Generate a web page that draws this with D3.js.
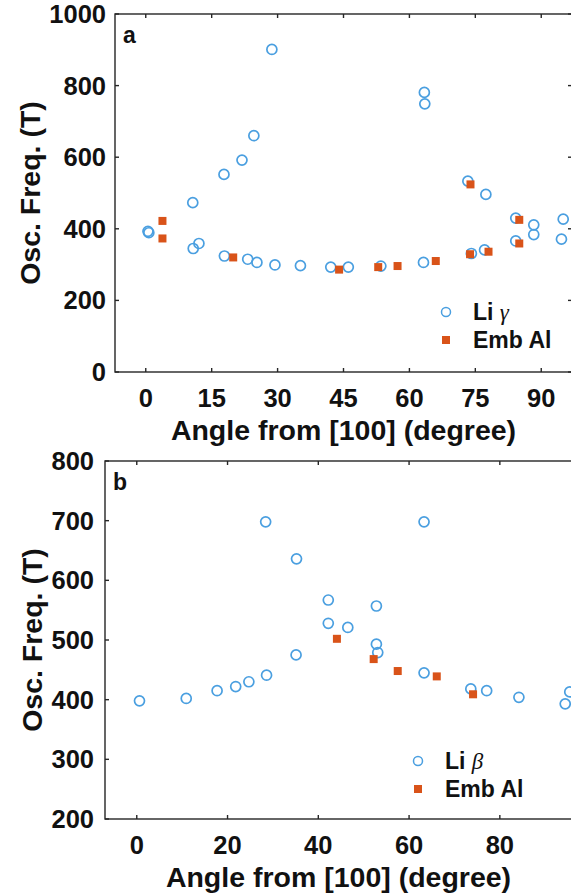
<!DOCTYPE html>
<html lang="en">
<head>
<meta charset="utf-8">
<title>Osc. Freq. vs angle</title>
<script src="https://cdn.jsdelivr.net/npm/d3@7"></script>
<style>
  body { margin: 0; background: #fff; }
  svg text { font-family: "Liberation Sans", Arial, sans-serif; font-weight: bold; fill: #111; }
</style>
</head>
<body>
<svg width="571" height="894"></svg>
<script>
// panel a data (Li gamma / Emb Al)
const aLiX = [0.5, 0.7, 10.7, 10.8, 12.1, 17.8, 17.9, 21.9, 23.2, 24.6, 25.3, 28.7, 29.4, 35.2, 42.1, 46.1, 53.5, 63.2, 63.4, 63.5, 73.3, 74.1, 77.1, 77.4, 84.2, 84.2, 88.3, 88.3, 95.0, 94.6];
const aLiY = [393, 389, 473, 345, 359, 552, 324, 592, 315, 660, 306, 901, 299, 297, 293, 293, 296, 306, 781, 749, 533, 331, 341, 496, 430, 366, 411, 384, 427, 371];
const aAlX = [3.8, 3.8, 19.9, 44.0, 52.9, 57.3, 66.0, 73.8, 73.9, 78.0, 85.0, 85.0];
const aAlY = [422, 373, 320, 286, 293, 296, 310, 329, 524, 336, 425, 359];

// panel b data (Li beta / Emb Al)
const bLiX = [0.6, 10.9, 17.7, 21.8, 24.7, 28.4, 28.6, 35.1, 35.2, 42.2, 42.2, 46.5, 52.8, 52.8, 53.1, 63.3, 63.3, 73.6, 77.1, 84.2, 94.4, 95.4];
const bLiY = [398, 402, 415, 422, 430, 698, 441, 475, 636, 567, 528, 521, 557, 493, 479, 698, 445, 418, 415, 404, 393, 413];
const bAlX = [44.1, 52.2, 57.5, 66.1, 74.1];
const bAlY = [502, 468, 448, 439, 409];

const aXTicks = [0, 15, 30, 45, 60, 75, 90];
const aYTicks = [0, 200, 400, 600, 800, 1000];
const bXTicks = [0, 20, 40, 60, 80];
const bYTicks = [200, 300, 400, 500, 600, 700, 800];

const blue = "#4a9fe0";
const red = "#d95319";
const axisCol = "#262626";

const svg = d3.select("svg");

function panel(opt) {
  const x = d3.scaleLinear().domain([-7, 97]).range([opt.left, opt.right]);
  const y = d3.scaleLinear().domain(opt.yDomain).range([opt.bottom, opt.top]);
  const g = svg.append("g");

  // box
  g.append("rect")
    .attr("x", opt.left).attr("y", opt.top)
    .attr("width", opt.right - opt.left).attr("height", opt.bottom - opt.top)
    .attr("fill", "none").attr("stroke", axisCol).attr("stroke-width", 1.4);

  const tl = 4;
  // ticks, all pointing inward
  g.selectAll(".xtb").data(opt.xTicks).enter().append("line")
    .attr("x1", d => x(d)).attr("x2", d => x(d))
    .attr("y1", opt.bottom).attr("y2", opt.bottom - tl)
    .attr("stroke", axisCol).attr("stroke-width", 1.4);
  g.selectAll(".xtt").data(opt.xTicks).enter().append("line")
    .attr("x1", d => x(d)).attr("x2", d => x(d))
    .attr("y1", opt.top).attr("y2", opt.top + tl)
    .attr("stroke", axisCol).attr("stroke-width", 1.4);
  g.selectAll(".ytl").data(opt.yTicks).enter().append("line")
    .attr("x1", opt.left).attr("x2", opt.left + tl)
    .attr("y1", d => y(d)).attr("y2", d => y(d))
    .attr("stroke", axisCol).attr("stroke-width", 1.4);
  g.selectAll(".ytr").data(opt.yTicks).enter().append("line")
    .attr("x1", opt.right).attr("x2", opt.right - tl)
    .attr("y1", d => y(d)).attr("y2", d => y(d))
    .attr("stroke", axisCol).attr("stroke-width", 1.4);

  // tick labels
  g.selectAll(".xl").data(opt.xTicks).enter().append("text")
    .attr("x", d => x(d)).attr("y", opt.bottom + 26)
    .attr("text-anchor", "middle").attr("dominant-baseline", "central")
    .attr("font-size", 25.5).text(d => d);
  g.selectAll(".yl").data(opt.yTicks).enter().append("text")
    .attr("x", opt.left - opt.ylabGap).attr("y", d => y(d))
    .attr("text-anchor", "end").attr("dominant-baseline", "central")
    .attr("font-size", 25.5).text(d => d);

  // axis titles
  g.append("text")
    .attr("x", (opt.left + 572) / 2).attr("y", opt.bottom + 58)
    .attr("text-anchor", "middle").attr("dominant-baseline", "central")
    .attr("font-size", 28.5).text("Angle from [100] (degree)");
  g.append("text")
    .attr("transform", `translate(${opt.ytitleX},${(opt.top + opt.bottom) / 2}) rotate(-90)`)
    .attr("text-anchor", "middle").attr("dominant-baseline", "central")
    .attr("font-size", 28.5).text("Osc. Freq. (T)");

  // panel letter
  g.append("text")
    .attr("x", opt.left + 8).attr("y", opt.top + 29)
    .attr("font-size", 23).text(opt.letter);

  // data
  const clip = "clip-" + opt.letter;
  svg.append("clipPath").attr("id", clip).append("rect")
    .attr("x", opt.left).attr("y", opt.top)
    .attr("width", opt.right - opt.left).attr("height", opt.bottom - opt.top);
  const dg = g.append("g").attr("clip-path", `url(#${clip})`);
  dg.selectAll("circle").data(d3.zip(opt.liX, opt.liY)).enter().append("circle")
    .attr("cx", d => x(d[0])).attr("cy", d => y(d[1])).attr("r", 5)
    .attr("fill", "none").attr("stroke", blue).attr("stroke-width", 1.7);
  dg.selectAll("rect").data(d3.zip(opt.alX, opt.alY)).enter().append("rect")
    .attr("x", d => x(d[0]) - 4).attr("y", d => y(d[1]) - 4)
    .attr("width", 8).attr("height", 8).attr("fill", red);

  // legend
  const lg = g.append("g");
  lg.append("circle").attr("cx", opt.legX).attr("cy", opt.legY).attr("r", 4.5)
    .attr("fill", "none").attr("stroke", blue).attr("stroke-width", 1.5);
  const t1 = lg.append("text").attr("x", opt.legX + 27).attr("y", opt.legY)
    .attr("dominant-baseline", "central").attr("font-size", 23);
  t1.append("tspan").text("Li ");
  t1.append("tspan").attr("font-family", "Liberation Serif").attr("font-style", "italic")
    .attr("font-weight", "normal").text(opt.greek);
  lg.append("rect").attr("x", opt.legX - 4).attr("y", opt.legY + 28 - 4)
    .attr("width", 8).attr("height", 8).attr("fill", red);
  lg.append("text").attr("x", opt.legX + 27).attr("y", opt.legY + 28)
    .attr("dominant-baseline", "central").attr("font-size", 23).text("Emb Al");
}

panel({
  letter: "a", left: 115, right: 572, top: 14, bottom: 372,
  yDomain: [0, 1000], xTicks: aXTicks, yTicks: aYTicks,
  liX: aLiX, liY: aLiY, alX: aAlX, alY: aAlY,
  ylabGap: 9, ytitleX: 30, legX: 446, legY: 312, greek: "\u03b3"
});

panel({
  letter: "b", left: 105, right: 577, top: 461, bottom: 819,
  yDomain: [200, 800], xTicks: bXTicks, yTicks: bYTicks,
  liX: bLiX, liY: bLiY, alX: bAlX, alY: bAlY,
  ylabGap: 11, ytitleX: 32, legX: 418, legY: 761, greek: "\u03b2"
});
</script>
</body>
</html>
